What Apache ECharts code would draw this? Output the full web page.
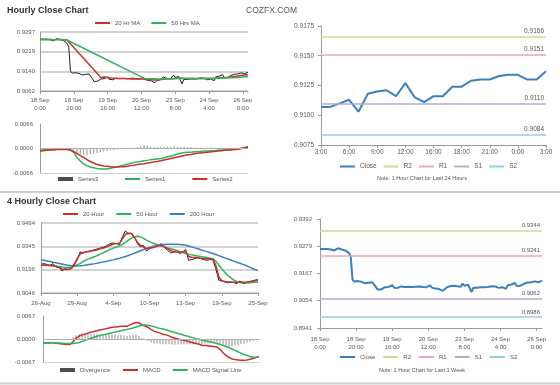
<!DOCTYPE html>
<html><head><meta charset="utf-8">
<script src="https://cdn.jsdelivr.net/npm/echarts@6/dist/echarts.min.js"></script>
<style>html,body{margin:0;padding:0;background:#fff}#c{width:560px;height:385px}</style>
</head><body><div id="c"></div>
<script>
// ---------- tick labels ----------
const hourTicks = ['18 Sep\n0:00','18 Sep\n20:00','19 Sep\n16:00','20 Sep\n12:00','23 Sep\n8:00','24 Sep\n4:00','26 Sep\n0:00'];
const dayTicks = ['3:00','6:00','9:00','12:00','16:00','18:00','21:00','0:00','3:00'];
const fourHourTicks = ['26-Aug','29-Aug','4-Sep','10-Sep','13-Sep','19-Sep','25-Sep'];
const yTicksHour = [0.9062, 0.9140, 0.9219, 0.9297];
const yTicksHourMacd = [-0.0066, 0, 0.0066];
const yTicksDay = [0.9075, 0.9100, 0.9125, 0.9150, 0.9175];
const yTicks4h = [0.9046, 0.9196, 0.9345, 0.9494];
const yTicks4hMacd = [-0.0067, 0, 0.0067];
const yTicksWeek = [0.8941, 0.9054, 0.9167, 0.9279, 0.9392];

// ---------- hourly close (last week, 124 hours) ----------
const closeWeek = [
0.9268,0.9269,0.9268,0.9266,0.9268,0.9267,0.9266,0.9265,0.9262,0.9266,0.9271,0.9270,0.9266,0.9264,0.9262,0.9259,
0.9252,0.9238,0.9142,0.9133,
0.9128,0.9135,0.9130,0.9132,0.9128,0.9126,0.9130,0.9128,0.9124,0.9130,
0.9127,0.9110,0.9100,0.9099,0.9101,0.9104,0.9110,0.9113,0.9111,0.9114,
0.9118,0.9108,0.9110,0.9107,0.9112,0.9113,0.9112,0.9111,0.9113,0.9112,
0.9110,0.9111,0.9109,0.9112,0.9105,0.9113,0.9107,0.9111,0.9114,0.9110,
0.9103,0.9117,0.9108,0.9110,0.9104,0.9108,0.9102,0.9105,0.9095,0.9103,
0.9108,0.9107,0.9114,0.9118,0.9116,0.9112,0.9114,0.9110,0.9112,0.9125,
0.9116,0.9112,0.9120,0.9124,0.9090,0.9108,0.9112,0.9108,0.9106,0.9110,
0.9112,0.9110,0.9113,0.9111,0.9112,0.9114,0.9112,0.9113,0.9110,
0.9107,0.9107,0.9110,0.9113,0.9103,0.9118,0.9120,0.9121,0.9116,0.9127,
0.9115,0.9111,0.9116,0.9116,0.9124,0.9124,0.9129,0.9130,0.9130,0.9133,
0.9134,0.9134,0.9130,0.9130,0.9137];
const ma20Hr = [
0.9267,0.9267,0.9267,0.9267,0.9267,0.9267,0.9267,0.9267,0.9266,0.9266,0.9267,0.9267,0.9267,0.9267,0.9266,0.9266,0.9265,0.9264,
null,null,null,null,null,null,null,null,null,null,null,null,null,null,null,null,null,null,
0.9116,0.9117,0.9118,0.9117,0.9116,0.9115,0.9114,0.9114,0.9113,0.9113,
0.9112,0.9112,0.9112,0.9112,0.9112,0.9111,0.9111,0.9111,0.9110,0.9110,
0.9110,0.9110,0.9111,0.9111,0.9110,0.9110,0.9109,0.9109,0.9108,0.9108,
0.9107,0.9107,0.9106,0.9106,0.9107,0.9107,0.9108,0.9109,0.9110,0.9110,
0.9111,0.9111,0.9111,0.9112,0.9113,0.9113,0.9114,0.9114,0.9113,0.9113,
0.9112,0.9112,0.9112,0.9112,0.9112,0.9111,0.9111,0.9111,0.9112,0.9112,
0.9112,0.9112,0.9112,0.9112,0.9112,0.9112,0.9112,0.9112,0.9113,0.9113,
0.9114,0.9114,0.9115,0.9115,0.9116,0.9116,0.9117,0.9118,0.9119,0.9120,
0.9121,0.9122,0.9123,0.9124,0.9125,0.9126,0.9127,0.9127];
const ma50Hr = [
0.9267,0.9267,0.9267,0.9267,0.9267,0.9267,0.9267,0.9267,0.9266,0.9266,0.9267,0.9267,0.9267,0.9267,0.9266,0.9266,0.9265,0.9264,
null,null,null,null,null,null,null,null,null,null,null,null,null,null,null,null,null,null,null,null,null,null,null,null,
null,null,null,null,null,null,null,null,null,null,null,null,null,null,null,null,null,null,null,null,
0.9111,0.9111,0.9111,0.9111,0.9111,0.9111,0.9111,0.9110,0.9110,0.9110,
0.9110,0.9110,0.9110,0.9111,0.9111,0.9111,0.9111,0.9111,0.9111,0.9112,
0.9112,0.9112,0.9112,0.9112,0.9112,0.9112,0.9112,0.9112,0.9112,0.9112,
0.9112,0.9112,0.9112,0.9112,0.9112,0.9112,0.9112,0.9112,0.9112,0.9112,
0.9112,0.9112,0.9113,0.9113,0.9113,0.9113,0.9114,0.9114,0.9114,0.9114,
0.9115,0.9115,0.9115,0.9116,0.9116,0.9116,0.9117,0.9117,0.9118,0.9118,0.9119,0.9119];

// ---------- hourly MACD (63 points) ----------
const hourSeries1 = [
-0.0004,-0.0004,-0.0003,-0.0003,-0.0003,-0.0002,-0.0002,-0.0002,-0.0002,-0.0003,
-0.0010,-0.0024,-0.0034,-0.0041,-0.0046,-0.0050,-0.0052,-0.0054,-0.0055,-0.0055,
-0.0055,-0.0053,-0.0051,-0.0049,-0.0047,-0.0045,-0.0042,-0.0040,-0.0038,-0.0036,
-0.0035,-0.0033,-0.0032,-0.0030,-0.0029,-0.0028,-0.0027,-0.0025,-0.0022,-0.0020,
-0.0018,-0.0015,-0.0013,-0.0011,-0.0010,-0.0010,-0.0009,-0.0009,-0.0008,-0.0007,
-0.0007,-0.0006,-0.0006,-0.0005,-0.0004,-0.0004,-0.0003,-0.0002,-0.0002,-0.0001,
0.0001,0.0003,0.0005];
const hourSeries2 = [
-0.0007,-0.0006,-0.0005,-0.0004,-0.0004,-0.0003,-0.0003,-0.0003,-0.0003,-0.0004,
-0.0008,-0.0013,-0.0019,-0.0024,-0.0030,-0.0035,-0.0039,-0.0043,-0.0045,-0.0047,
-0.0048,-0.0049,-0.0050,-0.0050,-0.0049,-0.0049,-0.0048,-0.0046,-0.0045,-0.0043,
-0.0042,-0.0041,-0.0039,-0.0038,-0.0036,-0.0035,-0.0033,-0.0031,-0.0029,-0.0027,
-0.0025,-0.0023,-0.0021,-0.0019,-0.0017,-0.0016,-0.0014,-0.0013,-0.0012,-0.0011,
-0.0010,-0.0009,-0.0008,-0.0007,-0.0006,-0.0005,-0.0004,-0.0004,-0.0003,-0.0002,
0.0000,0.0002,0.0004];
const hourSeries3 = [
0,0,0,0,0,0,0,0,0,0,
-0.0004,-0.0012,-0.0016,-0.0018,-0.0018,-0.0016,-0.0014,-0.0012,-0.0010,-0.0008,
-0.0007,-0.0005,-0.0004,-0.0003,-0.0002,-0.0001,0.0001,0.0002,0.0003,0.0004,
0.0006,0.0008,0.0007,0.0005,0.0004,0.0004,0.0004,0.0004,0.0005,0.0005,
0.0006,0.0005,0.0005,0.0005,0.0004,0.0004,0.0003,0.0003,0.0003,0.0002,
0.0002,0.0002,0.0001,0.0001,0.0001,0.0001,0.0001,0.0001,0.0001,0.0001,
0.0001,0.0001,0.0001];

// ---------- last 24 hours ----------
const close24 = [0.9107,0.9107,0.9110,0.9113,0.9103,0.9118,0.9120,0.9121,0.9116,0.9127,
0.9115,0.9111,0.9116,0.9116,0.9124,0.9124,0.9129,0.9130,0.9130,0.9133,
0.9134,0.9134,0.9130,0.9130,0.9137];
const pivots24 = {R2:0.9166, R1:0.9151, S1:0.9110, S2:0.9084};
const pivotsWeek = {R2:0.9344, R1:0.9241, S1:0.9062, S2:0.8986};

// ---------- 4 hourly (73 points) ----------
const close4h = [
0.9230,0.9234,0.9228,0.9223,0.9234,0.9213,0.9209,0.9187,0.9202,0.9196,
0.9209,0.9234,0.9255,0.9309,0.9302,0.9309,0.9315,0.9319,0.9324,0.9330,
0.9336,0.9341,0.9351,0.9362,0.9366,0.9362,0.9356,0.9405,0.9443,0.9426,
0.9430,0.9405,0.9362,0.9341,0.9351,0.9315,0.9330,0.9341,0.9345,0.9351,
0.9362,0.9336,0.9319,0.9302,0.9309,0.9319,0.9298,0.9309,0.9324,0.9255,
0.9260,0.9266,0.9273,0.9266,0.9260,0.9255,0.9260,0.9260,0.9202,0.9128,
0.9123,0.9117,0.9111,0.9115,0.9113,0.9106,0.9123,0.9106,0.9111,0.9117,
0.9123,0.9128,0.9132];
const ma20Hour = [
0.9223,0.9224,0.9224,0.9222,0.9220,0.9217,0.9210,0.9200,0.9196,0.9197,
0.9202,0.9223,0.9266,0.9295,0.9305,0.9309,0.9312,0.9316,0.9320,0.9325,
0.9330,0.9336,0.9343,0.9352,0.9360,0.9362,0.9364,0.9392,0.9420,0.9428,
0.9426,0.9400,0.9370,0.9351,0.9340,0.9330,0.9332,0.9336,0.9342,0.9348,
0.9351,0.9342,0.9330,0.9318,0.9309,0.9308,0.9307,0.9308,0.9309,0.9280,
0.9275,0.9273,0.9270,0.9268,0.9266,0.9265,0.9265,0.9264,0.9223,0.9149,
0.9125,0.9120,0.9117,0.9116,0.9115,0.9114,0.9115,0.9115,0.9116,0.9118,
0.9121,0.9125,0.9128];
const ma50Hour = [
0.9225,0.9224,0.9223,0.9222,0.9220,0.9218,0.9215,0.9212,0.9210,0.9210,
0.9212,0.9217,0.9225,0.9236,0.9248,0.9258,0.9266,0.9273,0.9280,0.9289,
0.9298,0.9307,0.9316,0.9325,0.9333,0.9340,0.9347,0.9357,0.9370,0.9385,
0.9398,0.9406,0.9409,0.9405,0.9396,0.9384,0.9375,0.9367,0.9360,0.9353,
0.9347,0.9341,0.9335,0.9329,0.9324,0.9318,0.9312,0.9305,0.9299,0.9294,
0.9290,0.9286,0.9283,0.9280,0.9277,0.9273,0.9269,0.9265,0.9250,0.9225,
0.9200,0.9178,0.9158,0.9143,0.9128,0.9118,0.9113,0.9111,0.9110,0.9111,
0.9113,0.9115,0.9117];
const ma200Hour = [
0.9258,0.9255,0.9251,0.9247,0.9243,0.9239,0.9235,0.9231,0.9227,0.9223,
0.9220,0.9219,0.9219,0.9220,0.9222,0.9225,0.9228,0.9231,0.9234,0.9238,
0.9242,0.9246,0.9250,0.9254,0.9258,0.9263,0.9268,0.9274,0.9280,0.9286,
0.9293,0.9300,0.9308,0.9316,0.9324,0.9331,0.9337,0.9343,0.9348,0.9352,
0.9355,0.9357,0.9358,0.9358,0.9358,0.9358,0.9357,0.9355,0.9352,0.9347,
0.9341,0.9335,0.9329,0.9323,0.9317,0.9311,0.9305,0.9299,0.9292,0.9285,
0.9278,0.9271,0.9264,0.9257,0.9250,0.9243,0.9236,0.9229,0.9222,0.9213,
0.9204,0.9196,0.9189];

// ---------- 4 hourly MACD (73 points) ----------
const macd4h = [
-0.0012,-0.0012,-0.0011,-0.0011,-0.0012,-0.0013,-0.0014,-0.0015,-0.0016,-0.0016,
-0.0008,0.0002,0.0008,0.0012,0.0014,0.0017,0.0020,0.0022,0.0024,0.0026,
0.0028,0.0030,0.0032,0.0034,0.0035,0.0036,0.0037,0.0037,0.0037,0.0041,
0.0045,0.0048,0.0047,0.0041,0.0038,0.0034,0.0028,0.0023,0.0020,0.0017,
0.0014,0.0012,0.0009,0.0005,0.0002,0.0000,-0.0002,-0.0004,-0.0006,-0.0009,
-0.0011,-0.0013,-0.0015,-0.0018,-0.0019,-0.0020,-0.0021,-0.0022,-0.0023,-0.0030,
-0.0040,-0.0048,-0.0054,-0.0058,-0.0060,-0.0061,-0.0062,-0.0062,-0.0061,-0.0059,
-0.0057,-0.0054,-0.0051];
const signal4h = [
-0.0012,-0.0012,-0.0012,-0.0011,-0.0011,-0.0012,-0.0012,-0.0013,-0.0013,-0.0013,
-0.0013,-0.0012,-0.0011,-0.0007,-0.0004,-0.0001,0.0002,0.0005,0.0008,0.0010,
0.0012,0.0014,0.0016,0.0018,0.0020,0.0022,0.0024,0.0026,0.0028,0.0030,
0.0032,0.0035,0.0038,0.0040,0.0041,0.0040,0.0038,0.0036,0.0033,0.0031,
0.0029,0.0027,0.0024,0.0021,0.0019,0.0016,0.0014,0.0011,0.0009,0.0006,
0.0004,0.0001,-0.0001,-0.0003,-0.0005,-0.0007,-0.0009,-0.0011,-0.0013,-0.0016,
-0.0019,-0.0022,-0.0025,-0.0029,-0.0033,-0.0037,-0.0041,-0.0045,-0.0048,-0.0051,
-0.0053,-0.0053,-0.0051];
const divergence4h = [
-0.0001,0.0000,0.0001,0.0000,-0.0001,-0.0001,-0.0002,-0.0002,-0.0003,-0.0003,
0.0005,0.0011,0.0014,0.0016,0.0016,0.0016,0.0016,0.0015,0.0015,0.0014,
0.0014,0.0014,0.0014,0.0014,0.0013,0.0012,0.0012,0.0011,0.0009,0.0010,
0.0012,0.0013,0.0009,0.0003,-0.0003,-0.0006,-0.0010,-0.0013,-0.0013,-0.0014,
-0.0015,-0.0015,-0.0015,-0.0016,-0.0017,-0.0016,-0.0016,-0.0015,-0.0015,-0.0015,
-0.0015,-0.0014,-0.0014,-0.0015,-0.0014,-0.0013,-0.0012,-0.0011,-0.0010,-0.0014,
-0.0018,-0.0021,-0.0022,-0.0021,-0.0019,-0.0017,-0.0015,-0.0013,-0.0010,-0.0008,
-0.0005,-0.0002,0.0000];

// ---------- styling ----------
const FONT = '"Liberation Sans", Arial, sans-serif';
const LBL = '#595959';
const AXC = '#9a9a9a';
const GRID = '#c4c4c4';
const C_RED = '#c9302c', C_GREEN = '#2fb35f', C_BLUE = '#3c7fbd', C_BLACK = '#1e1e1e';
const PIV_COL = {R2:'#d6d795', R1:'#eaa9b2', S1:'#b9a9cf', S2:'#97cfe2'};

const cats = n => Array.from({length:n}, (_, i) => String(i));

function xCat(grid, n, step, ticks, o) {
  o = o || {};
  const show = !!ticks;
  return {
    type:'category', gridIndex:grid, data:cats(n), boundaryGap:false,
    axisLine:{show:true, onZero:false, lineStyle:{color:o.lineColor || AXC, width:1}},
    axisTick:{show:show, length:3, lineStyle:{color:AXC}, interval: i => i % step === 0},
    axisLabel:{show:show, interval: i => i % step === 0, margin:o.margin || 5,
      fontSize:o.fs || 6, color:LBL, fontFamily:FONT, lineHeight:o.lh || 8,
      formatter:(v, i) => show ? (ticks[i / step] || '') : ''},
    splitLine:{show:false}
  };
}
function yVal(grid, ticks, o) {
  o = o || {};
  return {
    type:'value', gridIndex:grid, min:ticks[0], max:ticks[ticks.length-1], scale:true,
    axisLine:{show:true, lineStyle:{color:AXC, width:1}},
    axisTick:{show:!!o.tick, length:3, inside:false, customValues:ticks, lineStyle:{color:AXC}},
    axisLabel:{customValues:ticks, formatter:v => (v + 1e-9).toFixed(4).replace('-0.0000','0.0000'),
      fontSize:o.fs || 6, color:LBL, fontFamily:FONT, margin:o.margin || 5},
    splitLine:{show:!!o.split, lineStyle:{color:GRID, width:1.5}}
  };
}
function pivotSeries(name, value, xi, yi, fs) {
  return {
    type:'line', name:name, xAxisIndex:xi, yAxisIndex:yi, data:[], symbol:'none',
    lineStyle:{color:PIV_COL[name], width:1.5}, itemStyle:{color:PIV_COL[name]},
    markLine:{silent:true, symbol:'none', animation:false, precision:4,
      lineStyle:{color:PIV_COL[name], width:1.5, type:'solid'},
      label:{show:true, position:'insideEndTop', distance:[2,2], fontSize:fs, color:'#555', fontFamily:FONT,
        formatter:p => Number(p.value).toFixed(4)},
      data:[{yAxis:value}]}
  };
}
function lineS(name, xi, yi, data, color, width, extra) {
  return Object.assign({type:'line', name:name, xAxisIndex:xi, yAxisIndex:yi, data:data, symbol:'none',
    connectNulls:true, lineStyle:{color:color, width:width}, itemStyle:{color:color}, animation:false}, extra || {});
}
function barS(name, xi, yi, data) {
  return {type:'bar', name:name, xAxisIndex:xi, yAxisIndex:yi, data:data, barWidth:1,
    itemStyle:{color:'#8f8f8f'}, animation:false,
    markLine:{silent:true, symbol:'none', animation:false, precision:4, label:{show:false},
      lineStyle:{color:'#b0b0b0', width:1, type:'solid'}, data:[{yAxis:0}]}};
}
function legend(left, top, names, fs, gap, h) {
  return {left:left, top:top, padding:0, itemWidth:15, itemHeight:h || 2, itemGap:gap, selectedMode:false,
    icon:'rect', textStyle:{fontSize:fs, color:'#555', fontFamily:FONT}, data:names};
}

const option = {
  animation:false,
  backgroundColor:'#fff',
  title:[
    {text:'Hourly Close Chart', left:7, top:6, padding:0, textStyle:{fontSize:9, fontWeight:'bold', color:'#333', fontFamily:FONT}},
    {text:'COZFX.COM', left:246, top:6, padding:0, textStyle:{fontSize:8.5, fontWeight:'normal', color:'#555', fontFamily:FONT}},
    {text:'4 Hourly Close Chart', left:7, top:197, padding:0, textStyle:{fontSize:9, fontWeight:'bold', color:'#333', fontFamily:FONT}}
  ],
  grid:[
    {left:40, top:32, width:208, height:59},
    {left:40, top:124, width:208, height:49},
    {left:321, top:26, width:225, height:119},
    {left:41, top:223, width:217, height:70},
    {left:43, top:316, width:216, height:46},
    {left:320, top:219, width:222, height:109}
  ],
  xAxis:[
    xCat(0, 124, 20, hourTicks, {margin:6, lh:7.5}),
    xCat(1, 63, 1, null, {lineColor:'#d0d0d0'}),
    xCat(2, 25, 3, dayTicks, {margin:3, fs:6.5}),
    xCat(3, 73, 12, fourHourTicks, {margin:6}),
    xCat(4, 73, 1, null, {lineColor:'#d0d0d0'}),
    xCat(5, 124, 20, hourTicks, {margin:7, lh:8.5})
  ],
  yAxis:[
    yVal(0, yTicksHour, {split:true, margin:5}),
    yVal(1, yTicksHourMacd, {margin:7}),
    yVal(2, yTicksDay, {tick:true, fs:6.5, margin:7}),
    yVal(3, yTicks4h, {split:true, margin:6}),
    yVal(4, yTicks4hMacd, {margin:8}),
    yVal(5, yTicksWeek, {tick:true, margin:8})
  ],
  legend:[
    legend(95, 20, ['20 Hr MA','50 Hrs MA'], 6, 11),
    legend(58, 176, [{name:'Series3', itemStyle:{color:'#4d4d4d'}}], 6, 10, 4),
    legend(125, 176, ['Series1','Series2'], 6, 27),
    legend(340, 163, ['Close','R2','R1','S1','S2'], 6.5, 7),
    legend(63, 211, ['20 Hour','50 Hour','200 Hour'], 6, 12),
    legend(60, 367, [{name:'Divergence', itemStyle:{color:'#4d4d4d'}}], 6, 10, 4),
    legend(123, 367, ['MACD','MACD Signal Line'], 6, 12),
    legend(340, 354, ['Close','R2','R1','S1','S2'], 6, 8)
  ],
  graphic:[
    {type:'line', shape:{x1:0, y1:192, x2:560, y2:192}, style:{stroke:'#cfcfcf', lineWidth:2}, silent:true},
    {type:'line', shape:{x1:0, y1:383.5, x2:560, y2:383.5}, style:{stroke:'#cfcfcf', lineWidth:2}, silent:true},
    {type:'text', x:422, y:178, style:{text:'Note: 1 Hour Chart for Last 24 Hours', textAlign:'center', textVerticalAlign:'middle', fontSize:5.5, fill:'#555', fontFamily:FONT}, silent:true},
    {type:'text', x:422, y:370, style:{text:'Note: 1 Hour Chart for Last 1 Week', textAlign:'center', textVerticalAlign:'middle', fontSize:5.5, fill:'#555', fontFamily:FONT}, silent:true}
  ],
  series:[
    lineS('Hourly Close', 0, 0, closeWeek, C_BLACK, 1),
    lineS('20 Hr MA', 0, 0, ma20Hr, C_RED, 1.5),
    lineS('50 Hrs MA', 0, 0, ma50Hr, C_GREEN, 1.5),
    barS('Series3', 1, 1, hourSeries3),
    lineS('Series1', 1, 1, hourSeries1, C_GREEN, 1.5),
    lineS('Series2', 1, 1, hourSeries2, C_RED, 1.5),
    pivotSeries('R2', pivots24.R2, 2, 2, 6.5),
    pivotSeries('R1', pivots24.R1, 2, 2, 6.5),
    pivotSeries('S1', pivots24.S1, 2, 2, 6.5),
    pivotSeries('S2', pivots24.S2, 2, 2, 6.5),
    lineS('Close', 2, 2, close24, C_BLUE, 2),
    lineS('4h Close', 3, 3, close4h, C_BLACK, 1),
    lineS('200 Hour', 3, 3, ma200Hour, C_BLUE, 1.5),
    lineS('50 Hour', 3, 3, ma50Hour, C_GREEN, 1.5),
    lineS('20 Hour', 3, 3, ma20Hour, C_RED, 1.5),
    barS('Divergence', 4, 4, divergence4h),
    lineS('MACD', 4, 4, macd4h, C_RED, 1.5),
    lineS('MACD Signal Line', 4, 4, signal4h, C_GREEN, 1.5),
    pivotSeries('R2', pivotsWeek.R2, 5, 5, 6),
    pivotSeries('R1', pivotsWeek.R1, 5, 5, 6),
    pivotSeries('S1', pivotsWeek.S1, 5, 5, 6),
    pivotSeries('S2', pivotsWeek.S2, 5, 5, 6),
    lineS('Close', 5, 5, closeWeek, C_BLUE, 2)
  ]
};
const chart = echarts.init(document.getElementById('c'), null, {renderer:'canvas'});
chart.setOption(option);
</script></body></html>
